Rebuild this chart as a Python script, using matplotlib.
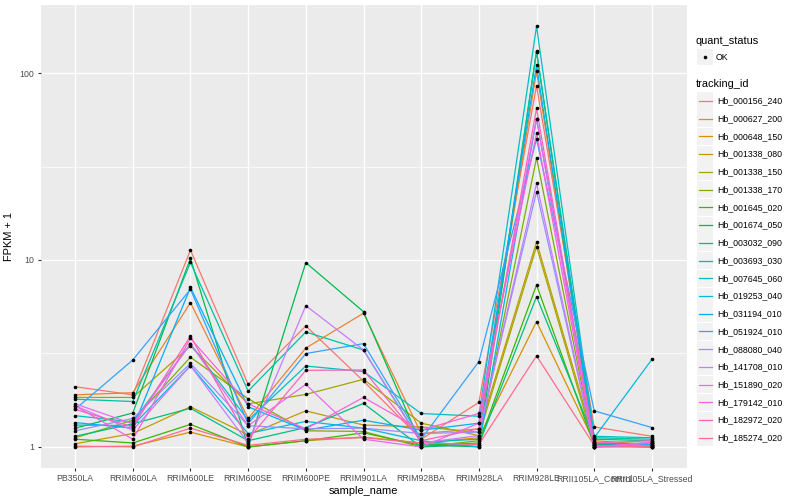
import matplotlib
matplotlib.use("Agg")
import matplotlib.pyplot as plt
from matplotlib.lines import Line2D
from matplotlib.patches import Rectangle
from matplotlib.ticker import FixedLocator, NullFormatter
import numpy as np

plt.rcParams['font.family'] = ['Liberation Sans', 'DejaVu Sans']

samples = ["PB350LA", "RRIM600LA", "RRIM600LE", "RRIM600SE", "RRIM600PE",
           "RRIM901LA", "RRIM928BA", "RRIM928LA", "RRIM928LE",
           "RRII105LA_Control", "RRII105LA_Stressed"]

tracking_ids = ["Hb_000156_240", "Hb_000627_200", "Hb_000648_150", "Hb_001338_080",
                "Hb_001338_150", "Hb_001338_170", "Hb_001645_020", "Hb_001674_050",
                "Hb_003032_090", "Hb_003693_030", "Hb_007645_060", "Hb_019253_040",
                "Hb_031194_010", "Hb_051924_010", "Hb_088080_040", "Hb_141708_010",
                "Hb_151890_020", "Hb_179142_010", "Hb_182972_020", "Hb_185274_020"]

# FPKM + 1, one row per tracking id, one column per sample
fpkm = [
    [2.10, 1.90, 11.3, 2.16, 4.44, 2.25, 1.10, 1.73, 85.5, 1.28, 1.14],
    [1.90, 1.95, 5.91, 1.42, 3.38, 5.19, 1.18, 1.25, 102, 1.05, 1.02],
    [1.00, 1.01, 1.20, 1.00, 1.08, 1.13, 1.05, 1.12, 4.68, 1.06, 1.00],
    [1.04, 1.18, 1.64, 1.16, 1.56, 1.31, 1.28, 1.20, 12.5, 1.08, 1.03],
    [1.84, 1.84, 3.47, 1.70, 1.91, 2.30, 1.34, 1.15, 11.8, 1.03, 1.01],
    [1.12, 1.39, 3.02, 1.81, 1.22, 1.21, 1.00, 1.08, 35.2, 1.00, 1.00],
    [1.10, 1.05, 1.32, 1.00, 1.08, 1.19, 1.02, 1.05, 7.35, 1.02, 1.00],
    [1.26, 1.52, 10.2, 1.00, 9.68, 5.29, 1.03, 1.00, 131, 1.03, 1.05],
    [1.14, 1.33, 1.61, 1.08, 1.27, 1.71, 1.00, 1.03, 6.37, 1.10, 1.08],
    [1.80, 1.75, 9.70, 1.99, 4.12, 3.30, 1.06, 1.10, 130, 1.12, 1.10],
    [1.47, 1.36, 3.56, 1.39, 2.71, 2.53, 1.51, 1.46, 178, 1.14, 1.12],
    [1.31, 1.30, 2.72, 1.18, 1.37, 1.26, 1.08, 1.00, 57.0, 1.12, 2.94],
    [1.35, 1.26, 7.14, 1.64, 1.23, 1.39, 1.23, 1.34, 110, 1.04, 1.03],
    [1.59, 2.92, 6.97, 1.33, 3.16, 3.57, 1.10, 2.86, 44.4, 1.56, 1.27],
    [1.22, 1.42, 2.80, 1.30, 1.25, 1.26, 1.18, 1.20, 23.2, 1.00, 1.02],
    [1.66, 1.23, 2.72, 1.05, 5.70, 3.30, 1.05, 1.15, 25.7, 1.00, 1.05],
    [1.70, 1.33, 3.56, 1.30, 2.16, 1.10, 1.00, 1.34, 57.0, 1.00, 1.05],
    [1.66, 1.10, 3.81, 1.70, 1.25, 1.84, 1.23, 1.51, 47.6, 1.00, 1.06],
    [1.59, 1.28, 3.92, 1.10, 2.57, 2.58, 1.08, 1.25, 64.7, 1.05, 1.08],
    [1.01, 1.00, 1.26, 1.02, 1.10, 1.12, 1.05, 1.03, 3.07, 1.02, 1.00],
]

# ggplot2 default hue palette for 20 levels
colors = ["#F8766D", "#EA8331", "#D89000", "#C09B00", "#A3A500", "#7CAE00",
          "#39B600", "#00BB4E", "#00BF7D", "#00C1A3", "#00BFC4", "#00BAE0",
          "#00B0F6", "#35A2FF", "#9590FF", "#C77CFF", "#E76BF3", "#FA62DB",
          "#FF62BC", "#FF6C91"]

W, H = 800, 500
fig = plt.figure(figsize=(8, 5), dpi=100)
left, right, top, bottom = 40.5, 686.5, 5, 468
ax = fig.add_axes([left / W, 1 - bottom / H, (right - left) / W, (bottom - top) / H])
ax.set_facecolor("#EBEBEB")
for s in ax.spines.values():
    s.set_visible(False)

x = np.arange(len(samples))
for i, tid in enumerate(tracking_ids):
    ax.plot(x, fpkm[i], color=colors[i], lw=0.9, zorder=2)
for i in range(len(tracking_ids)):
    ax.plot(x, fpkm[i], ls='none', marker='o', ms=2.6, mew=0, color='black', zorder=3)

ax.set_yscale('log')
ax.set_ylim(10 ** -0.1126, 10 ** 2.364)
ax.set_xlim(-0.6, len(samples) - 0.4)
ax.yaxis.set_major_locator(FixedLocator([1, 10, 100]))
ax.set_yticklabels(["1", "10", "100"])
ax.yaxis.set_minor_locator(FixedLocator([10 ** 0.5, 10 ** 1.5]))
ax.yaxis.set_minor_formatter(NullFormatter())
ax.set_xticks(x)
ax.set_xticklabels(samples)

ax.grid(which='major', color='white', lw=1.0)
ax.grid(which='minor', axis='y', color='white', lw=0.5)
ax.set_axisbelow(True)
ax.tick_params(which='major', length=2.5, width=0.8, color='#333333',
               labelsize=6.3, labelcolor='#4D4D4D', pad=2)
ax.tick_params(which='minor', length=0)

ax.set_xlabel("sample_name", fontsize=7.9, labelpad=2)
ax.set_ylabel("FPKM + 1", fontsize=7.9, labelpad=4)

# legend drawn in ggplot style
def px(xp, yp):
    return xp / W, 1 - yp / H

fig.text(*px(696, 41), "quant_status", fontsize=7.9, va='center', ha='left')
fig.patches.append(Rectangle(px(697, 65), 16 / W, 16 / H, transform=fig.transFigure,
                             facecolor='#F2F2F2', edgecolor='none'))
fig.lines.append(Line2D([705 / W], [1 - 57 / H], transform=fig.transFigure,
                        marker='o', ms=2.6, mew=0, color='black', ls='none'))
fig.text(*px(716, 57), "OK", fontsize=6.3, va='center', ha='left')

fig.text(*px(696, 84), "tracking_id", fontsize=7.9, va='center', ha='left')
y0, dy = 101, 17.73
for i, tid in enumerate(tracking_ids):
    yc = y0 + i * dy
    fig.patches.append(Rectangle(px(697, yc + 8.5), 16 / W, 17 / H,
                                 transform=fig.transFigure,
                                 facecolor='#F2F2F2', edgecolor='none'))
    fig.lines.append(Line2D([698.5 / W, 711.5 / W], [1 - yc / H, 1 - yc / H],
                            transform=fig.transFigure, color=colors[i], lw=0.9))
    fig.text(*px(717, yc), tid, fontsize=6.3, va='center', ha='left')

fig.savefig("out.png", dpi=100)
